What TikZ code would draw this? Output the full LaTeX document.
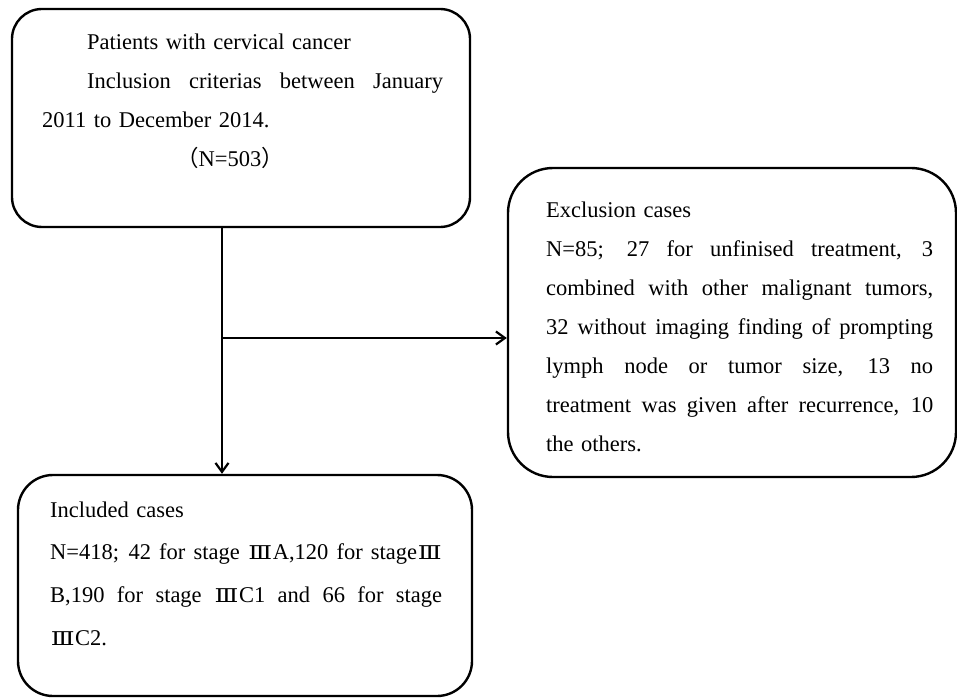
\documentclass[tikz,border=0pt]{standalone}
\usepackage{fontspec}
\usepackage{graphicx}
\setmainfont{Liberation Serif}
\newfontfamily\cjk{Noto Sans CJK SC}
\newfontfamily\romfont{DejaVu Serif}
\usetikzlibrary{arrows.meta}
\newcommand\RomIII{\makebox[25bp]{\scalebox{1.3}[1]{\romfont\fontsize{19bp}{19bp}\selectfont Ⅲ}}}
\newcommand\jl[2]{\makebox[#1][s]{\spaceskip=0.25em plus 1em\xspaceskip=0.25em plus 1em\relax #2}}
\begin{document}
\begin{tikzpicture}[x=1bp,y=-1bp,
  box/.style={draw, line width=2.4bp, rounded corners=#1, inner sep=0pt, rectangle},
  txt/.style={inner sep=0pt, align=left, anchor=base west, font=\fontsize{22.5bp}{39bp}\selectfont},
  conn/.style={line width=2.2bp, -{Straight Barb[length=9bp,width=13bp]}}]
\useasboundingbox (0,0) rectangle (957,698);
% boxes
\node[box=30bp, minimum width=458bp, minimum height=218bp] (b1) at (241,118) {};
\node[box=45bp, minimum width=448bp, minimum height=309bp] (b2) at (732,322.5) {};
\node[box=35bp, minimum width=454bp, minimum height=221bp] (b3) at (245,585.5) {};
% texts
\node[txt, text width=401bp] (t1) at (42,50) {\hspace*{45bp}Patients with cervical cancer\\
\hspace*{45bp}\jl{356bp}{Inclusion criterias between January}\\
2011 to December 2014.\\
\hspace*{134bp}{\cjk （}N=503{\cjk ）}};
\node[txt, text width=387bp] (t2) at (546,217) {Exclusion cases\\
\jl{387bp}{N=85; 27 for unfinised treatment, 3}\\
\jl{387bp}{combined with other malignant tumors,}\\
\jl{387bp}{32 without imaging finding of prompting}\\
\jl{387bp}{lymph node or tumor size, 13 no}\\
\jl{387bp}{treatment was given after recurrence, 10}\\
the others.};
\node[txt, text width=392bp, font=\fontsize{22.5bp}{42.7bp}\selectfont] (t3) at (50,517) {Included cases\\
\jl{392bp}{N=418; 42 for stage \RomIII A,120 for stage\RomIII}\\
\jl{392bp}{B,190 for stage \RomIII C1 and 66 for stage}\\
\RomIII C2.};
% connectors
\coordinate (j) at (222,338);
\draw[conn] (b1.south -| j) -- (b3.north -| j);
\draw[conn] (j) -- (b2.west |- j);
\end{tikzpicture}
\end{document}
